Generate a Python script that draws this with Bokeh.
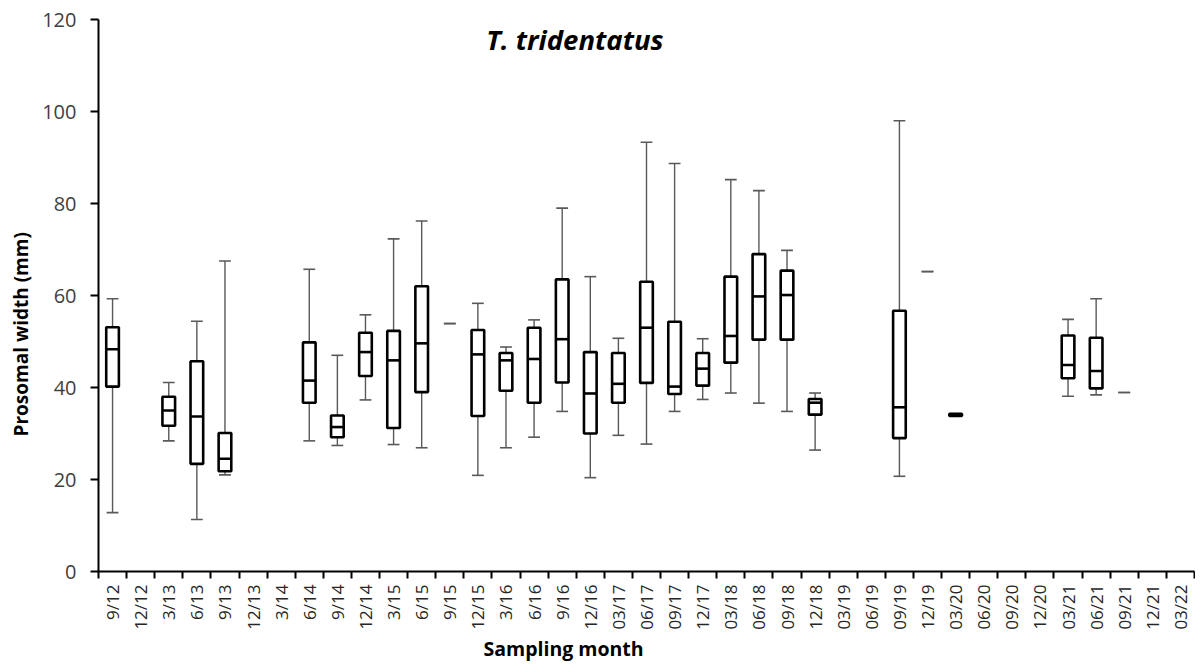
import math
from bokeh.plotting import figure
from bokeh.models import ColumnDataSource, FixedTicker, Range1d, Title, Label
from bokeh.embed import file_html
from bokeh.resources import INLINE

labels = ["9/12", "12/12", "3/13", "6/13", "9/13", "12/13", "3/14", "6/14", "9/14", "12/14",
          "3/15", "6/15", "9/15", "12/15", "3/16", "6/16", "9/16", "12/16", "03/17", "06/17",
          "09/17", "12/17", "03/18", "06/18", "09/18", "12/18", "03/19", "06/19", "09/19", "12/19",
          "03/20", "06/20", "09/20", "12/20", "03/21", "06/21", "09/21", "12/21", "03/22"]

N = None
whisker_low = [12.8, N, 28.4, 11.3, 21.0, N, N, 28.4, 27.4, 37.3,
               27.6, 26.9, 53.9, 20.9, 26.9, 29.2, 34.8, 20.4, 29.6, 27.7,
               34.8, 37.4, 38.8, 36.6, 34.8, 26.4, N, N, 20.7, 65.2,
               33.8, N, N, N, 38.1, 38.4, 38.9, N, N]
q1 = [40.2, N, 31.7, 23.4, 21.8, N, N, 36.7, 29.2, 42.5,
      31.2, 39.0, N, 33.8, 39.3, 36.7, 41.1, 30.0, 36.7, 41.0,
      38.6, 40.4, 45.4, 50.4, 50.4, 34.1, N, N, 29.0, N,
      33.8, N, N, N, 42.0, 39.8, N, N, N]
median = [48.3, N, 35.0, 33.7, 24.5, N, N, 41.5, 31.4, 47.7,
          45.9, 49.6, N, 47.2, 45.9, 46.2, 50.5, 38.7, 40.8, 53.0,
          40.2, 44.1, 51.2, 59.8, 60.1, 36.7, N, N, 35.7, N,
          34.0, N, N, N, 44.9, 43.6, N, N, N]
q3 = [53.1, N, 38.0, 45.7, 30.1, N, N, 49.8, 33.9, 51.9,
      52.3, 62.0, N, 52.5, 47.5, 53.0, 63.5, 47.7, 47.5, 63.0,
      54.3, 47.5, 64.1, 69.0, 65.4, 37.5, N, N, 56.7, N,
      34.3, N, N, N, 51.3, 50.8, N, N, N]
whisker_high = [59.3, N, 41.1, 54.4, 67.5, N, N, 65.7, 47.0, 55.8,
                72.3, 76.2, 53.9, 58.3, 48.8, 54.7, 79.0, 64.1, 50.7, 93.3,
                88.7, 50.6, 85.2, 82.8, 69.8, 38.8, N, N, 98.0, 65.2,
                34.3, N, N, N, 54.8, 59.3, 38.9, N, N]

y_ticks = [0, 20, 40, 60, 80, 100, 120]

BOX_W = 0.45
CAP_W = 0.42
FONT = "Open Sans"

wi = [i for i in range(len(labels)) if whisker_low[i] is not None]
bi = [i for i in range(len(labels)) if q1[i] is not None]

wsrc = ColumnDataSource(dict(
    x=wi,
    lo=[whisker_low[i] for i in wi],
    hi=[whisker_high[i] for i in wi],
    c0=[i - CAP_W / 2 for i in wi],
    c1=[i + CAP_W / 2 for i in wi],
))
bsrc = ColumnDataSource(dict(
    x=bi,
    q1=[q1[i] for i in bi],
    q3=[q3[i] for i in bi],
    med=[median[i] for i in bi],
    m0=[i - BOX_W / 2 for i in bi],
    m1=[i + BOX_W / 2 for i in bi],
))

p = figure(width=1195, height=664, output_backend="svg", toolbar_location=None,
           x_range=Range1d(-0.5, len(labels) - 0.5), y_range=Range1d(0, 120),
           min_border_left=98, min_border_right=1, min_border_top=19, min_border_bottom=93)
p.background_fill_color = "white"
p.border_fill_color = "white"
p.outline_line_color = None
p.xgrid.visible = False
p.ygrid.visible = False

WH = "#595959"
p.segment(x0="x", y0="lo", x1="x", y1="hi", source=wsrc, line_color=WH, line_width=1.4)
p.segment(x0="c0", y0="lo", x1="c1", y1="lo", source=wsrc, line_color=WH, line_width=1.6)
p.segment(x0="c0", y0="hi", x1="c1", y1="hi", source=wsrc, line_color=WH, line_width=1.6)
p.vbar(x="x", width=BOX_W, bottom="q1", top="q3", source=bsrc,
       fill_color="white", line_color="black", line_width=2.6)
p.segment(x0="m0", y0="med", x1="m1", y1="med", source=bsrc, line_color="black", line_width=2.6)

# x axis
xa = p.xaxis[0]
xa.ticker = FixedTicker(ticks=list(range(len(labels))),
                        minor_ticks=[i - 0.5 for i in range(len(labels) + 1)])
xa.major_label_overrides = {i: lab for i, lab in enumerate(labels)}
xa.major_label_orientation = math.pi / 2
xa.major_tick_line_color = None
xa.minor_tick_line_color = "black"
xa.minor_tick_line_width = 2
xa.minor_tick_out = 7
xa.minor_tick_in = 0
xa.axis_line_color = "black"
xa.axis_line_width = 2
xa.major_label_text_font = FONT
xa.major_label_text_font_size = "17px"
xa.major_label_text_color = "#262626"
xa.major_label_standoff = 6

# y axis
ya = p.yaxis[0]
ya.ticker = FixedTicker(ticks=y_ticks)
ya.minor_tick_line_color = None
ya.major_tick_line_color = "black"
ya.major_tick_line_width = 2
ya.major_tick_out = 8
ya.major_tick_in = 0
ya.axis_line_color = "black"
ya.axis_line_width = 2
ya.major_label_text_font = FONT
ya.major_label_text_font_size = "20px"
ya.major_label_text_color = "#404040"
ya.major_label_standoff = 14

p.add_layout(Title(text="Prosomal width (mm)", align="left", offset=135,
                   text_font=FONT, text_font_size="19px", text_font_style="bold",
                   text_color="black", standoff=11), "left")
p.add_layout(Title(text="Sampling month", align="left", offset=385,
                   text_font=FONT, text_font_size="19.5px", text_font_style="bold",
                   text_color="black", standoff=1), "below")

p.add_layout(Label(x=16.45, y=115.6, text="T. tridentatus", text_align="center",
                   text_baseline="middle", text_font=FONT, text_font_size="27.5px",
                   text_font_style="bold italic", text_color="black"))

open("out.html", "w").write(file_html(p, INLINE))
